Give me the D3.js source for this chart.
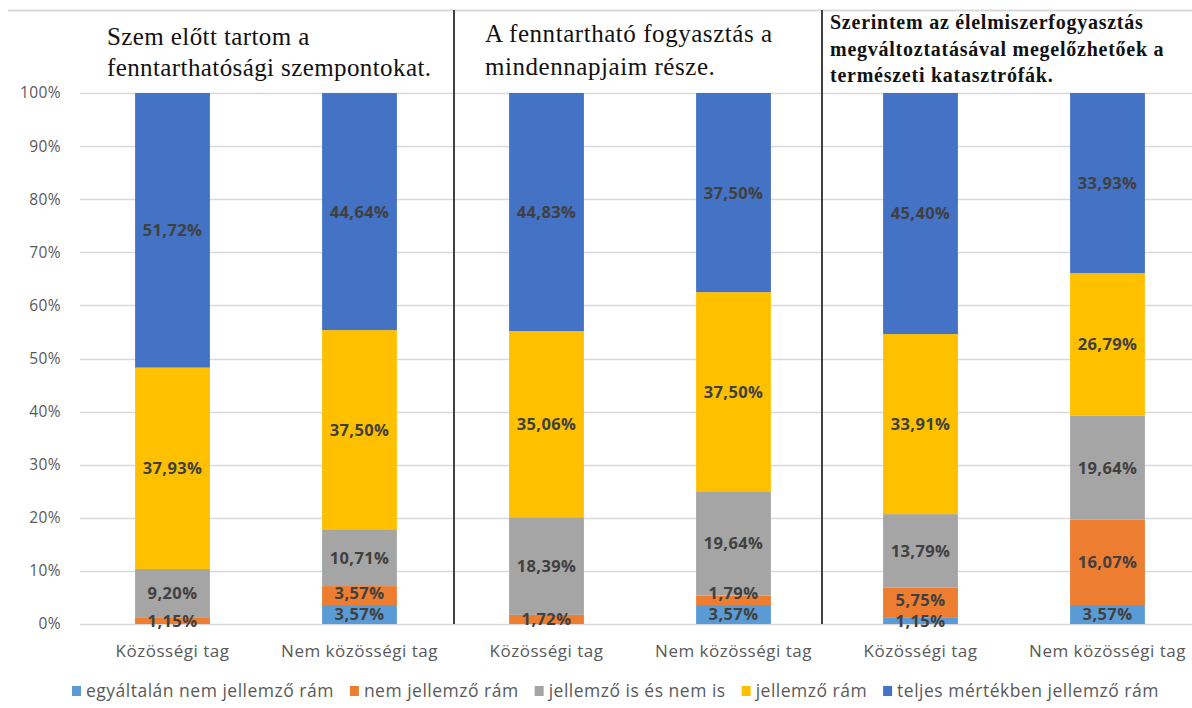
<!doctype html>
<html lang="hu">
<head>
    <meta charset="utf-8">
    <script src="https://d3js.org/d3.v7.min.js"></script>
    <style>
        body { margin:0; background:#fff; }
        svg text { font-family: "Open Sans", Lato, sans-serif; }
        .title { font-family: "Liberation Serif", "Times New Roman", serif !important; fill:#111; }
    </style>
    <title>Fenntarthatóság</title>
</head>
<body>
<script>

// categories and series (bottom to top)
var categories = ["Közösségi tag", "Nem közösségi tag"];
var series = ["egyáltalán nem jellemző rám", "nem jellemző rám", "jellemző is és nem is", "jellemző rám", "teljes mértékben jellemző rám"];
var colors = ["#5B9BD5", "#ED7D31", "#A5A5A5", "#FFC000", "#4472C4"];

var titles = [
    ["Szem előtt tartom a", "fenntarthatósági szempontokat."],
    ["A fenntartható fogyasztás a", "mindennapjaim része."],
    ["Szerintem az élelmiszerfogyasztás", "megváltoztatásával megelőzhetőek a", "természeti katasztrófák."]
];

// values per bar, order = series
var g1Kozossegi = [0, 1.15, 9.20, 37.93, 51.72];
var g1Nem = [3.57, 3.57, 10.71, 37.50, 44.64];
var g2Kozossegi = [0, 1.72, 18.39, 35.06, 44.83];
var g2Nem = [3.57, 1.79, 19.64, 37.50, 37.50];
var g3Kozossegi = [1.15, 5.75, 13.79, 33.91, 45.40];
var g3Nem = [3.57, 16.07, 19.64, 26.79, 33.93];

var yTicks = [0, 10, 20, 30, 40, 50, 60, 70, 80, 90, 100];

var bars = [
    {group: 0, cat: categories[0], vals: g1Kozossegi},
    {group: 0, cat: categories[1], vals: g1Nem},
    {group: 1, cat: categories[0], vals: g2Kozossegi},
    {group: 1, cat: categories[1], vals: g2Nem},
    {group: 2, cat: categories[0], vals: g3Kozossegi},
    {group: 2, cat: categories[1], vals: g3Nem}
];
bars.forEach(function(b, i) { b.key = "b" + i; });

var width = 1192, height = 708;
var svg = d3.select("body").append("svg")
    .attr("width", width)
    .attr("height", height);

var x = d3.scaleBand()
    .domain(bars.map(function(d) { return d.key; }))
    .range([79, 1201])
    .paddingInner(0.6)
    .paddingOuter(0.3);

var y = d3.scaleLinear()
    .domain([0, 100])
    .range([624, 93]);

// top border line
svg.append("line")
    .attr("x1", 8).attr("x2", width)
    .attr("y1", 10.5).attr("y2", 10.5)
    .attr("stroke", "#d9d9d9").attr("stroke-width", 2);

// gridlines
svg.append("g").selectAll("line")
    .data(yTicks)
    .enter().append("line")
    .attr("x1", 80).attr("x2", width)
    .attr("y1", function(d) { return Math.round(y(d)) + 0.5; })
    .attr("y2", function(d) { return Math.round(y(d)) + 0.5; })
    .attr("stroke", "#d9d9d9").attr("stroke-width", 1.5);

// y axis labels
var yAxis = svg.append("g")
    .attr("transform", "translate(61,0)")
    .call(d3.axisLeft(y).tickValues(yTicks).tickSize(0).tickPadding(0)
        .tickFormat(function(d) { return d + "%"; }));
yAxis.select(".domain").remove();
yAxis.selectAll("text")
    .attr("fill", "#595959")
    .style("font-size", "15.5px")
    .style("letter-spacing", "0.4px")
    .style("font-family", "'Open Sans', sans-serif");

// stacked bars
var stacked = bars.map(function(b) {
    var acc = 0;
    return b.vals.map(function(v, i) {
        var seg = {bar: b, i: i, v: v, y0: acc, y1: acc + v};
        acc += v;
        return seg;
    });
});
var segs = [].concat.apply([], stacked);

// label positions: centre of segment, nudged up when too close to the one below
var minGap = 21;
stacked.forEach(function(col) {
    var prev = null;
    col.forEach(function(d) {
        if (d.v <= 0) return;
        d.ly = y((d.y0 + d.y1) / 2);
        if (prev !== null && prev - d.ly < minGap) d.ly = prev - minGap;
        prev = d.ly;
    });
});

svg.append("g").selectAll("rect")
    .data(segs.filter(function(d) { return d.v > 0; }))
    .enter().append("rect")
    .attr("x", function(d) { return x(d.bar.key); })
    .attr("width", x.bandwidth())
    .attr("y", function(d) { return y(Math.min(d.y1, 100)); })
    .attr("height", function(d) { return y(d.y0) - y(Math.min(d.y1, 100)); })
    .attr("fill", function(d) { return colors[d.i]; });

// value labels
svg.append("g").selectAll("text")
    .data(segs.filter(function(d) { return d.v > 0; }))
    .enter().append("text")
    .attr("x", function(d) { return x(d.bar.key) + x.bandwidth() / 2; })
    .attr("y", function(d) { return d.ly; })
    .attr("dy", "0.36em")
    .attr("text-anchor", "middle")
    .attr("fill", "#404040")
    .style("font-size", "16.5px")
    .style("letter-spacing", "0.4px")
    .style("font-weight", "bold")
    .text(function(d) { return d.v.toFixed(2).replace(".", ",") + "%"; });

// x labels
svg.append("g").selectAll("text")
    .data(bars)
    .enter().append("text")
    .attr("x", function(d) { return x(d.key) + x.bandwidth() / 2; })
    .attr("y", 657)
    .attr("text-anchor", "middle")
    .attr("fill", "#595959")
    .style("font-size", "17px")
    .style("letter-spacing", "0.5px")
    .text(function(d) { return d.cat; });

// group dividers
var dividerX = [454, 822];
svg.append("g").selectAll("line")
    .data(dividerX)
    .enter().append("line")
    .attr("x1", function(d) { return d; }).attr("x2", function(d) { return d; })
    .attr("y1", 10).attr("y2", 624)
    .attr("stroke", "#404040").attr("stroke-width", 2);

// titles
var titleSpec = [
    {x: 107, y: 45, size: 25, lh: 31, bold: false, ls: 0.4},
    {x: 485, y: 42, size: 25, lh: 33, bold: false, ls: 0.55},
    {x: 830, y: 29, size: 20, lh: 26.5, bold: true, ls: 0.75}
];
titles.forEach(function(lines, gi) {
    var s = titleSpec[gi];
    var t = svg.append("text")
        .attr("class", "title")
        .attr("x", s.x).attr("y", s.y)
        .style("font-size", s.size + "px")
        .style("letter-spacing", s.ls + "px")
        .style("font-weight", s.bold ? "bold" : "normal");
    lines.forEach(function(line, li) {
        t.append("tspan")
            .attr("x", s.x)
            .attr("y", s.y + li * s.lh)
            .text(line);
    });
});

// legend
var legend = svg.append("g").attr("transform", "translate(72,691)");
var lx = 0;
series.forEach(function(name, i) {
    var item = legend.append("g").attr("transform", "translate(" + lx + ",0)");
    item.append("rect")
        .attr("x", 0).attr("y", -5)
        .attr("width", 9).attr("height", 10)
        .attr("fill", colors[i]);
    var t = item.append("text")
        .attr("x", 14).attr("y", 0)
        .attr("dy", "0.35em")
        .attr("fill", "#595959")
        .style("font-size", "17.5px")
        .style("letter-spacing", "0.5px")
        .text(name);
    lx += 14 + t.node().getComputedTextLength() + 16;
});

</script>
</body>
</html>
